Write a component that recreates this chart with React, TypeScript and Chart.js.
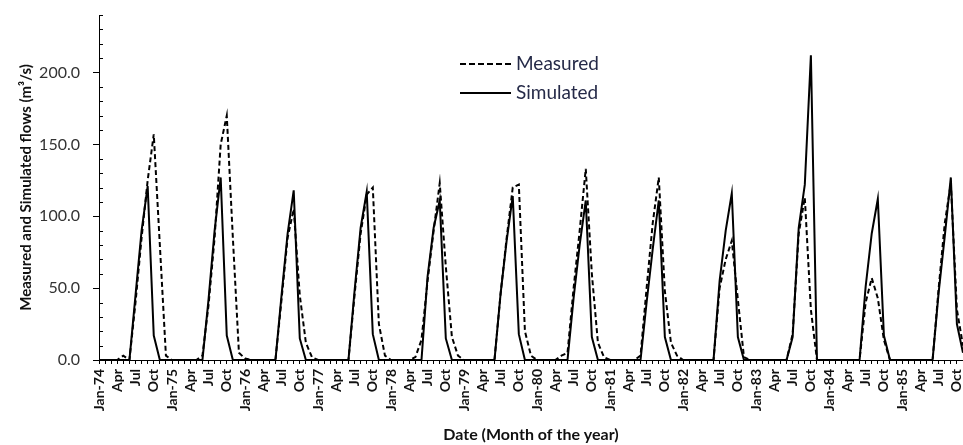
import React, { useEffect, useRef } from 'react';
import { Chart, registerables } from 'chart.js';

Chart.register(...registerables);

const monthNames = ['Jan', 'Feb', 'Mar', 'Apr', 'May', 'Jun', 'Jul', 'Aug', 'Sep', 'Oct', 'Nov', 'Dec'];
const years = ['74', '75', '76', '77', '78', '79', '80', '81', '82', '83', '84', '85'];
const labelledMonths = ['Jan', 'Apr', 'Jul', 'Oct'];

// Jan-74 .. Nov-85 (143 months)
const categories = years.flatMap((y) => monthNames.map((m) => `${m}-${y}`)).slice(0, 143);

const measured = [
  0, 0, 0, 0, 3, 0, 40, 85, 125, 157, 80, 3, // 1974
  0, 0, 0, 0, 0, 3, 38, 85, 150, 170, 85, 5, // 1975
  1, 0, 0, 0, 0, 0, 42, 85, 105, 45, 12, 2, // 1976
  0, 0, 0, 0, 0, 0, 45, 88, 115, 120, 25, 3, // 1977
  0, 0, 0, 0, 2, 14, 55, 90, 123, 65, 16, 3, // 1978
  0, 0, 0, 0, 0, 0, 46, 85, 120, 122, 20, 3, // 1979
  0, 0, 0, 0, 3, 5, 50, 90, 133, 60, 12, 2, // 1980
  0, 0, 0, 0, 0, 3, 50, 95, 127, 48, 12, 3, // 1981
  0, 0, 0, 0, 0, 0, 50, 70, 83, 42, 2, 0, // 1982
  0, 0, 0, 0, 0, 0, 18, 88, 113, 35, 0, 0, // 1983
  0, 0, 0, 0, 0, 0, 40, 57, 43, 14, 0, 0, // 1984
  0, 0, 0, 0, 0, 0, 50, 95, 123, 35, 10, // 1985
];

const simulated = [
  0, 0, 0, 0, 0, 0, 45, 90, 121, 17, 0, 0, // 1974
  0, 0, 0, 0, 0, 0, 42, 90, 127, 17, 0, 0, // 1975
  0, 0, 0, 0, 0, 0, 45, 88, 118, 15, 0, 0, // 1976
  0, 0, 0, 0, 0, 0, 48, 92, 117, 18, 0, 0, // 1977
  0, 0, 0, 0, 0, 0, 58, 92, 111, 15, 0, 0, // 1978
  0, 0, 0, 0, 0, 0, 46, 83, 114, 18, 0, 0, // 1979
  0, 0, 0, 0, 0, 0, 43, 80, 111, 16, 0, 0, // 1980
  0, 0, 0, 0, 0, 0, 40, 77, 111, 16, 0, 0, // 1981
  0, 0, 0, 0, 0, 0, 55, 90, 116, 16, 0, 0, // 1982
  0, 0, 0, 0, 0, 0, 16, 92, 122, 212, 0, 0, // 1983
  0, 0, 0, 0, 0, 0, 51, 88, 112, 17, 0, 0, // 1984
  0, 0, 0, 0, 0, 0, 47, 86, 127, 25, 5, // 1985
];

const seriesNames = ['Measured', 'Simulated'];
const yTitle = 'Measured and Simulated flows (m³/s)';
const xTitle = 'Date (Month of the year)';

const minorTicksPlugin = {
  id: 'minorTicks',
  afterDraw(chart: any) {
    const ys = chart.scales.y;
    const ctx = chart.ctx;
    const left = chart.chartArea.left;
    ctx.save();
    ctx.strokeStyle = '#000';
    ctx.lineWidth = 1;
    ys.ticks.forEach((t: any) => {
      if (t.value % 50 !== 0) {
        const y = Math.round(ys.getPixelForValue(t.value)) + 0.5;
        ctx.beginPath();
        ctx.moveTo(left, y);
        ctx.lineTo(left + 4, y);
        ctx.stroke();
      }
    });
    ctx.restore();
  },
};

const legendPlugin = {
  id: 'customLegend',
  afterDraw(chart: any) {
    const ctx = chart.ctx;
    const x0 = 460;
    const rows = [
      { y: 64, dash: [6, 3] },
      { y: 93, dash: [] },
    ];
    ctx.save();
    rows.forEach((r, i) => {
      ctx.strokeStyle = '#000';
      ctx.lineWidth = 2;
      ctx.setLineDash(r.dash);
      ctx.beginPath();
      ctx.moveTo(x0, r.y);
      ctx.lineTo(x0 + 51, r.y);
      ctx.stroke();
      ctx.setLineDash([]);
      ctx.fillStyle = '#252a48';
      ctx.font = '19px Lato';
      ctx.textBaseline = 'middle';
      ctx.textAlign = 'left';
      ctx.fillText(seriesNames[i], x0 + 56, r.y);
    });
    ctx.restore();
  },
};

export default function App() {
  const ref = useRef<HTMLCanvasElement>(null);

  useEffect(() => {
    if (!ref.current) return;
    const chart = new Chart(ref.current, {
      type: 'line',
      data: {
        labels: categories,
        datasets: [
          {
            label: seriesNames[0],
            data: measured,
            borderColor: '#000',
            borderWidth: 2,
            borderDash: [5, 3],
            pointRadius: 0,
            tension: 0,
            fill: false,
          },
          {
            label: seriesNames[1],
            data: simulated,
            borderColor: '#000',
            borderWidth: 2,
            pointRadius: 0,
            tension: 0,
            fill: false,
          },
        ],
      },
      options: {
        responsive: false,
        animation: false,
        events: [],
        layout: { padding: { top: 15, right: 0, left: 0, bottom: 0 }, autoPadding: false } as any,
        plugins: {
          legend: { display: false },
          tooltip: { enabled: false },
        },
        scales: {
          x: {
            type: 'category',
            offset: false,
            afterFit: (s: any) => {
              s.height = 85;
              s.paddingLeft = 0;
              s.paddingRight = 0;
            },
            border: { display: true, color: '#000', width: 1 },
            grid: {
              display: true,
              drawOnChartArea: false,
              drawTicks: true,
              tickLength: 4,
              color: '#000',
            },
            ticks: {
              autoSkip: false,
              maxRotation: 90,
              minRotation: 90,
              padding: 5,
              color: '#111',
              font: { family: 'Lato', size: 14, weight: 'bold' },
              callback: (_v: any, idx: number) => {
                const m = monthNames[idx % 12];
                if (!labelledMonths.includes(m)) return '';
                return m === 'Jan' ? categories[idx] : m;
              },
            },
            title: {
              display: true,
              text: xTitle,
              color: '#111',
              font: { family: 'Lato', size: 16, weight: 'bold' },
              padding: { top: 0, bottom: 1 },
            },
          },
          y: {
            min: 0,
            max: 240,
            afterFit: (s: any) => {
              s.width = 99;
              s.paddingTop = 0;
              s.paddingBottom = 0;
            },
            border: { display: true, color: '#000', width: 1 },
            grid: {
              display: true,
              drawOnChartArea: false,
              drawTicks: true,
              tickLength: 6,
              color: (c: any) => (c.tick && c.tick.value % 50 === 0 ? '#000' : 'rgba(0,0,0,0)'),
            },
            ticks: {
              stepSize: 10,
              autoSkip: false,
              padding: 13,
              color: '#333',
              font: { family: 'Lato', size: 16 },
              callback: (v: any) => (Number(v) % 50 === 0 ? Number(v).toFixed(1) : ''),
            },
            title: {
              display: true,
              text: yTitle,
              color: '#111',
              font: { family: 'Lato', size: 15, weight: 'bold' },
              padding: { top: 17, bottom: 0 },
            },
          },
        },
      },
      plugins: [minorTicksPlugin, legendPlugin],
    } as any);
    return () => chart.destroy();
  }, []);

  return (
    <div style={{ position: 'fixed', left: 0, top: 0, width: 963, height: 445, background: '#fff' }}>
      <canvas ref={ref} width={963} height={445} style={{ display: 'block' }} />
    </div>
  );
}
